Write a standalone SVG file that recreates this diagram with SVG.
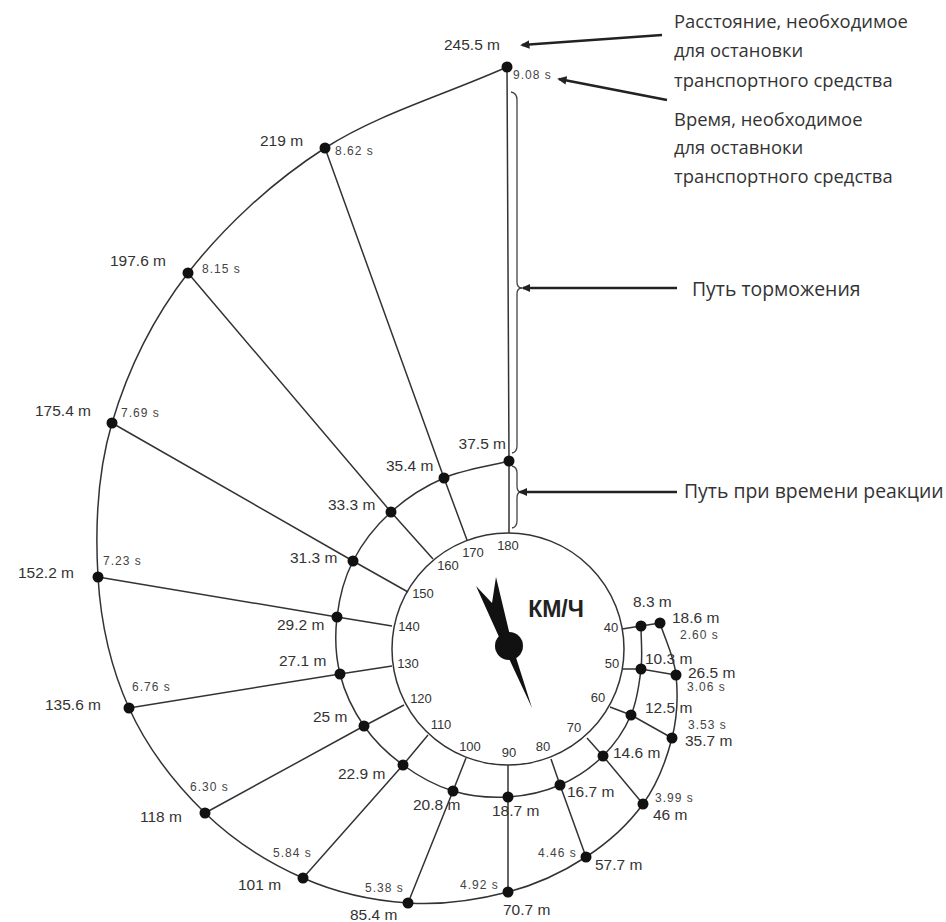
<svg xmlns="http://www.w3.org/2000/svg" width="946" height="922" viewBox="0 0 946 922">
<defs>
<marker id="ah" viewBox="0 0 10 10" refX="8" refY="5" markerWidth="3.6" markerHeight="3.6" orient="auto" markerUnits="strokeWidth">
<path d="M0,0.5 L10,5 L0,9.5 Z" fill="#222"/>
</marker>
<style>
.ln{fill:none;stroke:#333;stroke-width:1.5}
.br{fill:none;stroke:#444;stroke-width:1.3}
.ar{fill:none;stroke:#222;stroke-width:2.6}
.dot{fill:#111}
.m{font-family:"Liberation Sans",Arial,sans-serif;font-size:15.5px;fill:#333}
.s{font-family:"Liberation Sans",Arial,sans-serif;font-size:12px;fill:#444;letter-spacing:1px}
.k{font-family:"Liberation Sans",Arial,sans-serif;font-size:13px;fill:#333;text-anchor:middle}
.t{font-family:"Open Sans","Liberation Sans",sans-serif;font-size:18.4px;fill:#333}
.p{font-family:"Open Sans","Liberation Sans",sans-serif;font-size:19.4px;fill:#333}
</style>
</defs>
<rect width="946" height="922" fill="#fff"/>

<g id="connectors">
<path class="ln" d="M509,461 C487.3,466.7 463.7,469.5 444,478 C424.3,486.5 406.2,498.2 391,512 C375.8,525.8 362,543.5 353,561 C344,578.5 339.2,598.2 337,617 C334.8,635.8 335.5,655.8 340,674 C344.5,692.2 353.5,710.8 364,726 C374.5,741.2 388.2,754.2 403,765 C417.8,775.8 435.5,785.7 453,791 C470.5,796.3 490.2,798 508,797 C525.8,796 544.2,791.8 560,785 C575.8,778.2 591.2,767.7 603,756 C614.8,744.3 624.7,729.5 631,715 C637.3,700.5 639.3,683.8 641,669 C642.7,654.2 641,640.3 641,626"/>
<path class="ln" d="M507,67 C447,94 378.3,113.7 325,148 C271.7,182.3 223.5,227.2 188,273 C152.5,318.8 127,372.3 112,423 C97,473.7 95.2,529.5 98,577 C100.8,624.5 111.2,668.7 129,708 C146.8,747.3 176,784.7 205,813 C234,841.3 269.2,863 303,878 C336.8,893 373.8,900.7 408,903 C442.2,905.3 478.3,899.7 508,892 C537.7,884.3 563.5,871.7 586,857 C608.5,842.3 628.7,823.8 643,804 C657.3,784.2 666.5,759.5 672,738 C677.5,716.5 678,694.2 676,675 C674,655.8 665.3,640.3 660,623"/>
<polyline class="ln" points="509,533 509,461 507,67"/>
<polyline class="ln" points="467,540 444,478 325,148"/>
<polyline class="ln" points="433,559 391,512 188,273"/>
<polyline class="ln" points="408,592 353,561 112,423"/>
<polyline class="ln" points="392,626 337,617 98,577"/>
<polyline class="ln" points="392,666 340,674 129,708"/>
<polyline class="ln" points="404,705 364,726 205,813"/>
<polyline class="ln" points="428,735 403,765 303,878"/>
<polyline class="ln" points="466,758 453,791 408,903"/>
<polyline class="ln" points="508,765 508,797 508,892"/>
<polyline class="ln" points="551,759 560,785 586,857"/>
<polyline class="ln" points="587,738 603,756 643,804"/>
<polyline class="ln" points="610,707 631,715 672,738"/>
<polyline class="ln" points="622,669 641,669 676,675"/>
<polyline class="ln" points="622,629 641,626 660,623"/>
<path class="br" d="M511,92 Q517,93 517,100 L517,282 Q517,288 522,288 Q517,288 517,294 L517,446 Q517,452 512,453"/>
<path class="br" d="M512,466 Q517,467 517,473 L517,486 Q517,492 521,492 Q517,492 517,498 L517,521 Q517,527 512,528"/>
<line class="ar" x1="662" y1="35" x2="522" y2="45" marker-end="url(#ah)"/>
<line class="ar" x1="667" y1="100" x2="559" y2="79" marker-end="url(#ah)"/>
<line class="ar" x1="677" y1="288" x2="523" y2="288" marker-end="url(#ah)"/>
<line class="ar" x1="677" y1="492" x2="520" y2="492" marker-end="url(#ah)"/>
</g>

<g id="dial">
<circle cx="508" cy="649" r="116" fill="#fff" class="ln"/>
<text class="k" x="508" y="549.5">180</text>
<text class="k" x="473" y="556.5">170</text>
<text class="k" x="448" y="569.5">160</text>
<text class="k" x="423" y="597.5">150</text>
<text class="k" x="409" y="630.5">140</text>
<text class="k" x="408" y="667.5">130</text>
<text class="k" x="421" y="702.5">120</text>
<text class="k" x="441" y="728.5">110</text>
<text class="k" x="470" y="750.5">100</text>
<text class="k" x="509" y="756.5">90</text>
<text class="k" x="543" y="750.5">80</text>
<text class="k" x="574" y="731.5">70</text>
<text class="k" x="598" y="701.5">60</text>
<text class="k" x="612" y="667.5">50</text>
<text class="k" x="611" y="631.5">40</text>
<text x="556" y="617" style="font-family:'Liberation Sans',Arial,sans-serif;font-size:23px;font-weight:bold;fill:#222;text-anchor:middle">КМ/Ч</text>
<polygon points="532,708 513,648 496,577 492,603 476,586 504,648" fill="#111"/>
<circle cx="509" cy="646" r="14" fill="#111"/>
</g>

<g id="v180"><circle class="dot" cx="509" cy="461" r="5.5"/><circle class="dot" cx="507" cy="67" r="5.5"/>
<text class="m" x="506" y="449" text-anchor="end">37.5 m</text><text class="m" x="444" y="50">245.5 m</text><text class="s" x="513" y="79">9.08 s</text></g>
<g id="v170"><circle class="dot" cx="444" cy="478" r="5.5"/><circle class="dot" cx="325" cy="148" r="5.5"/>
<text class="m" x="386" y="471">35.4 m</text><text class="m" x="260" y="146">219 m</text><text class="s" x="335" y="155">8.62 s</text></g>
<g id="v160"><circle class="dot" cx="391" cy="512" r="5.5"/><circle class="dot" cx="188" cy="273" r="5.5"/>
<text class="m" x="328" y="510">33.3 m</text><text class="m" x="110" y="266">197.6 m</text><text class="s" x="202" y="273">8.15 s</text></g>
<g id="v150"><circle class="dot" cx="353" cy="561" r="5.5"/><circle class="dot" cx="112" cy="423" r="5.5"/>
<text class="m" x="290" y="563">31.3 m</text><text class="m" x="35" y="416">175.4 m</text><text class="s" x="121" y="417">7.69 s</text></g>
<g id="v140"><circle class="dot" cx="337" cy="617" r="5.5"/><circle class="dot" cx="98" cy="577" r="5.5"/>
<text class="m" x="74" y="578" text-anchor="end">152.2 m</text><text class="m" x="277" y="630">29.2 m</text><text class="s" x="103" y="565">7.23 s</text></g>
<g id="v130"><circle class="dot" cx="340" cy="674" r="5.5"/><circle class="dot" cx="129" cy="708" r="5.5"/>
<text class="m" x="279" y="666">27.1 m</text><text class="m" x="45" y="710">135.6 m</text><text class="s" x="132" y="691">6.76 s</text></g>
<g id="v120"><circle class="dot" cx="364" cy="726" r="5.5"/><circle class="dot" cx="205" cy="813" r="5.5"/>
<text class="m" x="313" y="722">25 m</text><text class="m" x="140" y="822">118 m</text><text class="s" x="190" y="791">6.30 s</text></g>
<g id="v110"><circle class="dot" cx="403" cy="765" r="5.5"/><circle class="dot" cx="303" cy="878" r="5.5"/>
<text class="m" x="338" y="779">22.9 m</text><text class="m" x="238" y="890">101 m</text><text class="s" x="273" y="857">5.84 s</text></g>
<g id="v100"><circle class="dot" cx="453" cy="791" r="5.5"/><circle class="dot" cx="408" cy="903" r="5.5"/>
<text class="m" x="413" y="810">20.8 m</text><text class="m" x="350" y="920">85.4 m</text><text class="s" x="365" y="892">5.38 s</text></g>
<g id="v90"><circle class="dot" cx="508" cy="797" r="5.5"/><circle class="dot" cx="508" cy="892" r="5.5"/>
<text class="m" x="492" y="816">18.7 m</text><text class="m" x="503" y="915">70.7 m</text><text class="s" x="460" y="889">4.92 s</text></g>
<g id="v80"><circle class="dot" cx="560" cy="785" r="5.5"/><circle class="dot" cx="586" cy="857" r="5.5"/>
<text class="m" x="567" y="797">16.7 m</text><text class="m" x="595" y="870">57.7 m</text><text class="s" x="538" y="857">4.46 s</text></g>
<g id="v70"><circle class="dot" cx="603" cy="756" r="5.5"/><circle class="dot" cx="643" cy="804" r="5.5"/>
<text class="m" x="613" y="758">14.6 m</text><text class="m" x="653" y="820">46 m</text><text class="s" x="655" y="802">3.99 s</text></g>
<g id="v60"><circle class="dot" cx="631" cy="715" r="5.5"/><circle class="dot" cx="672" cy="738" r="5.5"/>
<text class="m" x="645" y="713">12.5 m</text><text class="m" x="685" y="746">35.7 m</text><text class="s" x="688" y="729">3.53 s</text></g>
<g id="v50"><circle class="dot" cx="641" cy="669" r="5.5"/><circle class="dot" cx="676" cy="675" r="5.5"/>
<text class="m" x="645" y="664">10.3 m</text><text class="m" x="688" y="678">26.5 m</text><text class="s" x="687" y="691">3.06 s</text></g>
<g id="v40"><circle class="dot" cx="641" cy="626" r="5.5"/><circle class="dot" cx="660" cy="623" r="5.5"/>
<text class="m" x="633" y="607">8.3 m</text><text class="m" x="672" y="623">18.6 m</text><text class="s" x="680" y="639">2.60 s</text></g>

<g id="note-distance"><text class="t" x="674" y="28">Расстояние, необходимое</text><text class="t" x="674" y="57">для остановки</text><text class="t" x="674" y="87">транспортного средства</text></g>
<g id="note-time"><text class="t" x="674" y="126">Время, необходимое</text><text class="t" x="674" y="154">для оставноки</text><text class="t" x="674" y="183">транспортного средства</text></g>
<g id="note-braking"><text class="p" x="692" y="296">Путь торможения</text></g>
<g id="note-reaction"><text class="p" x="684" y="498">Путь при времени реакции</text></g>
</svg>
